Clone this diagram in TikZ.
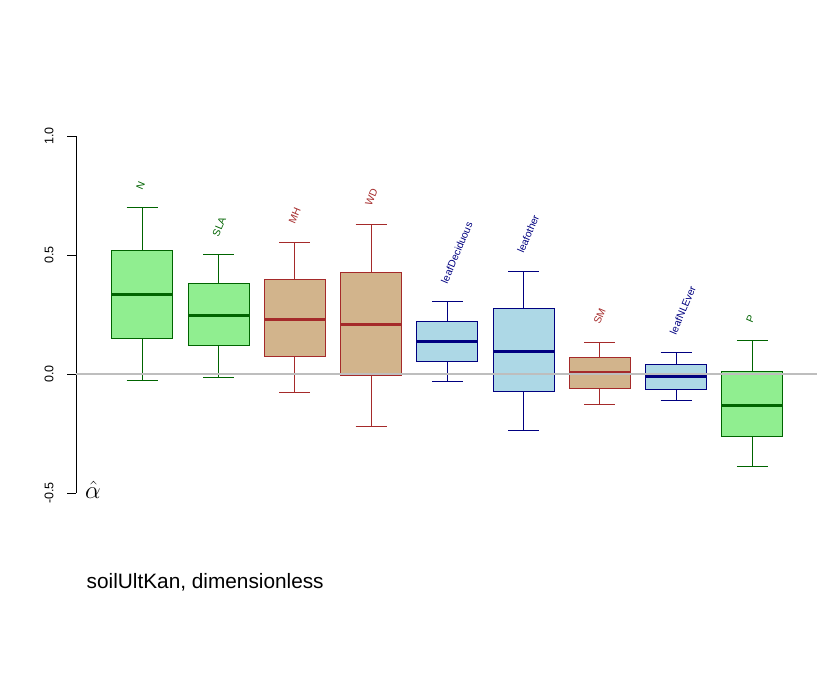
\documentclass[tikz,border=0pt]{standalone}
\usepackage{fontspec}
\setmainfont{Liberation Sans}
\definecolor{lgreen}{RGB}{144,238,144}
\definecolor{dgreen}{RGB}{0,100,0}
\definecolor{tan}{RGB}{210,180,140}
\definecolor{brownR}{RGB}{165,42,42}
\definecolor{lblue}{RGB}{173,216,230}
\definecolor{navyR}{RGB}{0,0,128}
\definecolor{grayR}{RGB}{190,190,190}
\newcommand{\bxp}[9]{%
  % #1 center, #2 whisker hi, #3 q3, #4 median, #5 q1, #6 whisker lo, #7 fill, #8 draw, #9 label
  \draw[#8, line width=1pt] (#1,#2) -- (#1,#3);
  \draw[#8, line width=1pt] (#1,#5) -- (#1,#6);
  \draw[#8, line width=1pt] (#1-15.5,#2) -- (#1+15.5,#2);
  \draw[#8, line width=1pt] (#1-15.5,#6) -- (#1+15.5,#6);
  \draw[#8, fill=#7, line width=1pt] (#1-30.5,#3) rectangle (#1+30.5,#5);
  \draw[#8, line width=3pt] (#1-30.5,#4) -- (#1+30.5,#4);
  \node[lab, text=#8, anchor=base west] (lab#9) at (#1,#2-17) {#9};
}
\begin{document}
\begin{tikzpicture}[x=1pt,y=-1pt,
  lab/.style={font=\fontsize{10.3}{12}\selectfont, rotate=67, inner sep=0pt},
  ticklab/.style={font=\fontsize{12.5}{14}\selectfont, rotate=90, inner sep=0pt}]
\useasboundingbox[fill=white] (0,0) rectangle (837,678);
% axis
\draw[line width=1pt] (76,136) -- (76,493);
\foreach \yy/\tl in {136/1.0, 255/0.5, 374/0.0, 493/-0.5}{
  \draw[line width=1pt] (67,\yy) -- (76,\yy);
  \node[ticklab] at (49,\yy) {\tl};
}
% boxes
\bxp{142.2}{207.3}{250.3}{294.3}{338.3}{380.0}{lgreen}{dgreen}{N}
\bxp{218.5}{254.3}{283.3}{315.3}{345.3}{377.3}{lgreen}{dgreen}{SLA}
\bxp{294.8}{242.0}{279.5}{319.3}{356.3}{392.3}{tan}{brownR}{MH}
\bxp{371.2}{224.0}{272.0}{324.3}{375.3}{426.3}{tan}{brownR}{WD}
\bxp{447.3}{301.3}{321.7}{341.3}{361.3}{381.3}{lblue}{navyR}{leafDeciduous}
\bxp{523.6}{271.0}{308.3}{351.3}{391.0}{430.3}{lblue}{navyR}{leafother}
\bxp{599.8}{342.0}{357.3}{372.3}{388.3}{404.3}{tan}{brownR}{SM}
\bxp{676.1}{352.3}{364.3}{376.3}{389.3}{400.3}{lblue}{navyR}{leafNLEver}
\bxp{752.3}{340.3}{371.0}{405.3}{436.0}{466.3}{lgreen}{dgreen}{P}
% zero line
\draw[grayR, line width=2pt] (76,374) -- (817,374);
% alpha hat
\node[font=\fontsize{25}{28}\selectfont, inner sep=0pt] (ahat) at (93,490) {$\hat{\alpha}$};
% caption
\node[font=\fontsize{20.8}{24}\selectfont, anchor=base west, inner sep=0pt] (cap) at (86.5,588) {soilUltKan, dimensionless};
\end{tikzpicture}
\end{document}
